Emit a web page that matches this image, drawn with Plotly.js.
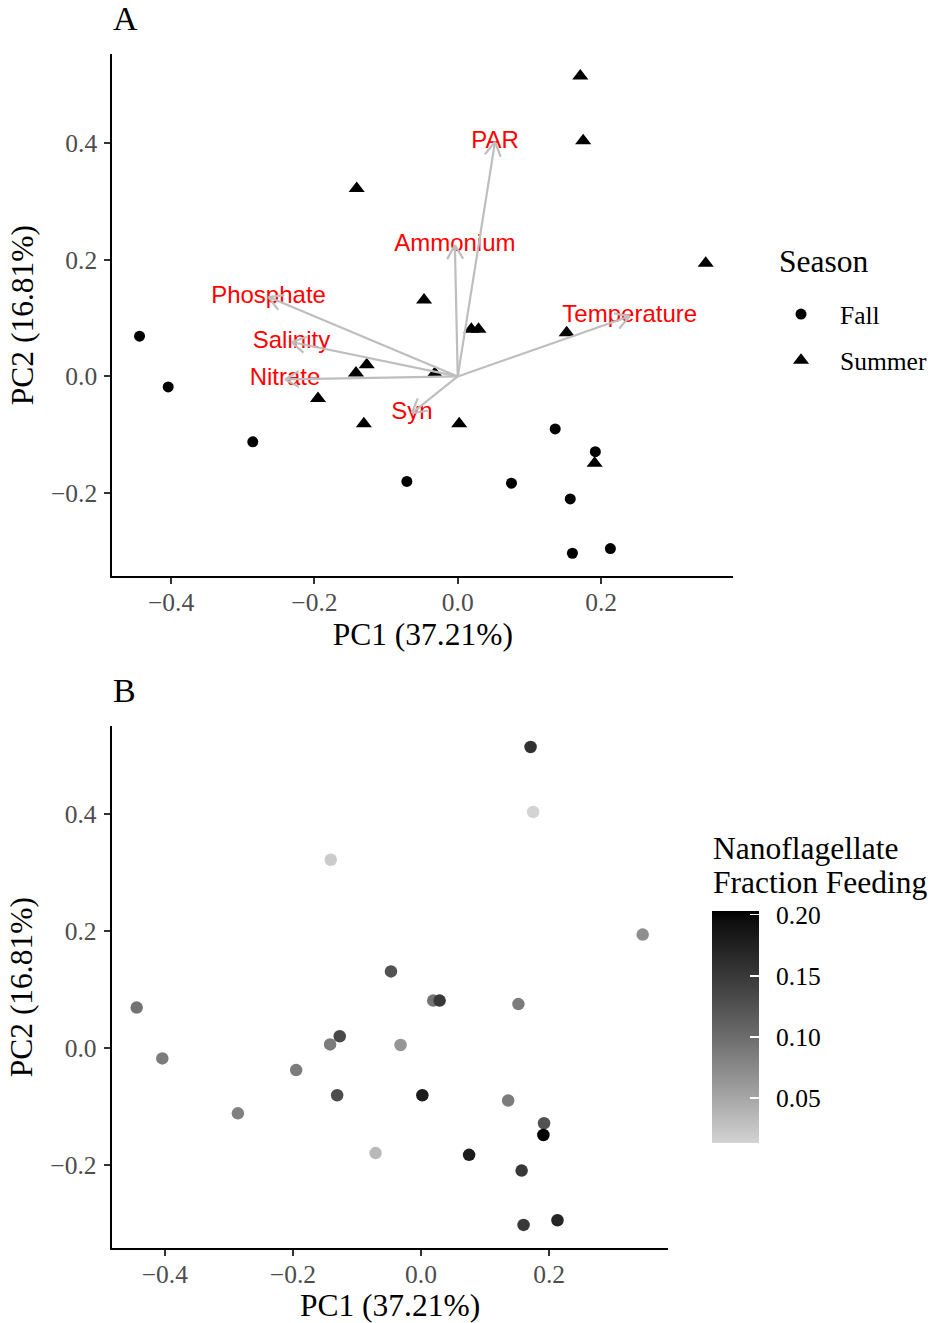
<!DOCTYPE html>
<html>
<head>
<meta charset="utf-8">
<script src="https://cdn.plot.ly/plotly-3.0.1.min.js"></script>
<style>html,body{margin:0;padding:0;background:#fff;}#chart{width:937px;height:1323px;}</style>
</head>
<body>
<div id="chart"></div>
<script>
// ---------- data ----------
const fallPC1 = [-0.444, -0.404, -0.286, -0.071, 0.075, 0.136, 0.192, 0.157, 0.160, 0.213];
const fallPC2 = [0.069, -0.018, -0.112, -0.180, -0.183, -0.090, -0.129, -0.210, -0.303, -0.295];
const fallFeeding = [0.094, 0.087, 0.083, 0.035, 0.180, 0.087, 0.125, 0.150, 0.150, 0.170];

const summerPC1 = [0.171, 0.175, -0.141, 0.346, -0.047, 0.019, 0.029, 0.152, -0.142, -0.127, -0.032, -0.195, -0.131, 0.002, 0.191];
const summerPC2 = [0.515, 0.404, 0.322, 0.194, 0.131, 0.081, 0.081, 0.075, 0.006, 0.020, 0.005, -0.038, -0.081, -0.081, -0.149];
const summerFeeding = [0.158, 0.0134, 0.020, 0.070, 0.125, 0.094, 0.150, 0.087, 0.087, 0.134, 0.065, 0.087, 0.130, 0.180, 0.203];

const vecNames = ['PAR', 'Ammonium', 'Phosphate', 'Salinity', 'Nitrate', 'Syn', 'Temperature'];
const vecPC1 = [0.052, -0.004, -0.264, -0.232, -0.241, -0.064, 0.240];
const vecPC2 = [0.402, 0.225, 0.136, 0.059, -0.005, -0.063, 0.103];

const xTicks = [-0.4, -0.2, 0.0, 0.2];
const yTicks = [-0.2, 0.0, 0.2, 0.4];
const cbTicks = [0.05, 0.10, 0.15, 0.20];
const cbTickText = ['0.05', '0.10', '0.15', '0.20'];

// ---------- layout geometry ----------
const W = 937, H = 1323;
const serif = 'Liberation Serif, Times New Roman, serif';
const sans = 'Liberation Sans, Arial, sans-serif';

const xRangeA = [-0.482, 0.3845], yRangeA = [-0.342, 0.552];
const xRangeB = [-0.483, 0.386], yRangeB = [-0.343, 0.551];
const xDomA = [112.3 / W, 733.3 / W], yDomA = [1 - 576 / H, 1 - 54.3 / H];
const xDomB = [111.7 / W, 668.3 / W], yDomB = [1 - 1248.3 / H, 1 - 726 / H];

// pixels per data unit in panel A (for arrowheads)
const pxX = (xDomA[1] - xDomA[0]) * W / (xRangeA[1] - xRangeA[0]);
const pxY = (yDomA[1] - yDomA[0]) * H / (yRangeA[1] - yRangeA[0]);

// arrow segments with open "V" heads
const segX = [], segY = [];
const headLen = 16, headAng = 30 * Math.PI / 180;
for (let i = 0; i < vecNames.length; i++) {
  const tx = vecPC1[i], ty = vecPC2[i];
  segX.push(0, tx, null); segY.push(0, ty, null);
  const dx = -tx * pxX, dy = -ty * pxY;
  const len = Math.hypot(dx, dy);
  const ux = dx / len, uy = dy / len;
  for (const s of [1, -1]) {
    const a = s * headAng;
    const bx = ux * Math.cos(a) - uy * Math.sin(a);
    const by = ux * Math.sin(a) + uy * Math.cos(a);
    segX.push(tx, tx + bx * headLen / pxX, null);
    segY.push(ty, ty + by * headLen / pxY, null);
  }
}

// lightgrey -> black gradient interpolated in Lab lightness
function labGrey(L) {
  const Y = L > 8 ? Math.pow((L + 16) / 116, 3) : L / 903.3;
  const s = Y <= 0.0031308 ? 12.92 * Y : 1.055 * Math.pow(Y, 1 / 2.4) - 0.055;
  const v = Math.round(Math.max(0, Math.min(1, s)) * 255);
  return 'rgb(' + v + ',' + v + ',' + v + ')';
}
const lowLin = Math.pow((211 / 255 + 0.055) / 1.055, 2.4);
const Llow = 116 * Math.cbrt(lowLin) - 16;
const colorscale = [];
for (let i = 0; i <= 20; i++) { const t = i / 20; colorscale.push([t, labGrey(Llow * (1 - t))]); }

const allPC1 = fallPC1.concat(summerPC1);
const allPC2 = fallPC2.concat(summerPC2);
const allFeeding = fallFeeding.concat(summerFeeding);

const PADTXT = '\u00a0\u2009';

const traces = [
  { type: 'scatter', mode: 'markers', name: 'Fall', x: fallPC1, y: fallPC2, xaxis: 'x', yaxis: 'y',
    marker: { symbol: 'circle', size: 11, color: 'black' }, legendgroup: 'g1', cliponaxis: false },
  { type: 'scatter', mode: 'markers', name: 'Summer', x: summerPC1, y: summerPC2, xaxis: 'x', yaxis: 'y',
    marker: { symbol: 'triangle-up', size: 14, color: 'black' }, legendgroup: 'g2', cliponaxis: false },
  { type: 'scatter', mode: 'text', x: vecPC1, y: vecPC2, text: vecNames, textposition: 'middle center',
    textfont: { family: sans, size: 24, color: '#ff0000' }, showlegend: false, xaxis: 'x', yaxis: 'y', hoverinfo: 'skip', cliponaxis: false },
  { type: 'scatter', mode: 'lines', x: segX, y: segY, xaxis: 'x', yaxis: 'y', showlegend: false,
    line: { color: '#bebebe', width: 2.2 }, hoverinfo: 'skip', connectgaps: false },
  { type: 'scatter', mode: 'markers', x: allPC1, y: allPC2, xaxis: 'x2', yaxis: 'y2', showlegend: false,
    marker: { symbol: 'circle', size: 12.5, color: allFeeding, colorscale: colorscale, showscale: true,
      colorbar: { x: 712 / W, xanchor: 'left', xpad: 0, y: 1 - 1027 / H, yanchor: 'middle', ypad: 0,
        len: 232, lenmode: 'pixels', thickness: 47, thicknessmode: 'pixels', outlinewidth: 0, borderwidth: 0,
        tickmode: 'array', tickvals: cbTicks, ticktext: cbTickText.map(t => PADTXT + t), ticks: 'inside', tickcolor: 'white',
        ticklen: 9, tickwidth: 1.5, tickfont: { family: serif, size: 25.5, color: 'black' }, title: { text: '' } } },
    cliponaxis: false }
];

function axisCommon(extra) {
  return Object.assign({
    showline: true, linecolor: 'black', linewidth: 2, mirror: false,
    ticks: 'outside', ticklen: 6, tickwidth: 2, tickcolor: '#333333',
    showgrid: false, zeroline: false, tickmode: 'array', tickformat: '.1f',
    tickfont: { family: serif, size: 25.5, color: '#4d4d4d' }, automargin: false, fixedrange: true
  }, extra);
}

const titleFont = { family: serif, size: 31.5, color: 'black' };

const layout = {
  width: W, height: H,
  margin: { l: 0, r: 0, t: 0, b: 0, pad: 0 },
  paper_bgcolor: 'white', plot_bgcolor: 'white',
  font: { family: serif, color: 'black' },
  showlegend: true,
  xaxis: axisCommon({ domain: xDomA, range: xRangeA, anchor: 'y', tickvals: xTicks, ticklabelstandoff: -4,
    title: { text: 'PC1 (37.21%)', font: titleFont, standoff: 0 } }),
  yaxis: axisCommon({ domain: yDomA, range: yRangeA, anchor: 'x', tickvals: yTicks, ticklabelstandoff: 2,
    title: { text: 'PC2 (16.81%)', font: titleFont, standoff: 8 } }),
  xaxis2: axisCommon({ domain: xDomB, range: xRangeB, anchor: 'y2', tickvals: xTicks, ticklabelstandoff: -4,
    title: { text: 'PC1 (37.21%)', font: titleFont, standoff: 0 } }),
  yaxis2: axisCommon({ domain: yDomB, range: yRangeB, anchor: 'x2', tickvals: yTicks, ticklabelstandoff: 2,
    title: { text: 'PC2 (16.81%)', font: titleFont, standoff: 8 } }),
  legend: { x: 762 / W, xanchor: 'left', y: 1 - 291 / H, yanchor: 'top', bgcolor: 'rgba(0,0,0,0)',
    font: { family: serif, size: 25.5, color: 'black' }, tracegroupgap: 10, traceorder: 'grouped',
    itemwidth: 68, itemclick: false },
  annotations: [
    { text: 'A', x: 111 / W, y: 1 - 18 / H, xref: 'paper', yref: 'paper', xanchor: 'left', yanchor: 'middle',
      showarrow: false, font: { family: serif, size: 34, color: 'black' } },
    { text: 'B', x: 111 / W, y: 1 - 690 / H, xref: 'paper', yref: 'paper', xanchor: 'left', yanchor: 'middle',
      showarrow: false, font: { family: serif, size: 34, color: 'black' } },
    { text: 'Season', x: 777 / W, y: 1 - 262 / H, xref: 'paper', yref: 'paper', xanchor: 'left', yanchor: 'middle',
      showarrow: false, font: { family: serif, size: 31.5, color: 'black' } },
    { text: 'Nanoflagellate', x: 711 / W, y: 1 - 848 / H, xref: 'paper', yref: 'paper', xanchor: 'left', yanchor: 'middle',
      showarrow: false, font: { family: serif, size: 31.5, color: 'black' } },
    { text: 'Fraction Feeding', x: 711 / W, y: 1 - 882 / H, xref: 'paper', yref: 'paper', xanchor: 'left', yanchor: 'middle',
      showarrow: false, font: { family: serif, size: 31.5, color: 'black' } }
  ]
};

Plotly.newPlot('chart', traces, layout, { displayModeBar: false, staticPlot: true });
</script>
</body>
</html>
